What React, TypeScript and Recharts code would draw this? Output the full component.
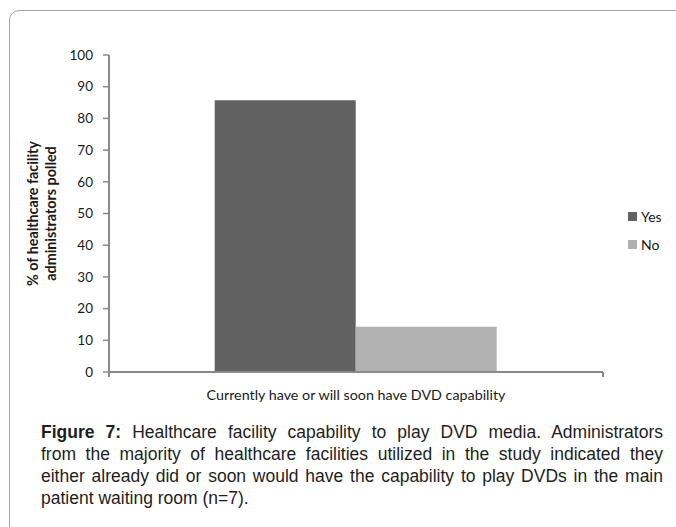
import { BarChart, Bar, XAxis, YAxis, Legend } from "recharts";

const categories = ["Currently have or will soon have DVD capability"];
const yesValues = [85.7];
const noValues = [14.3];
const seriesNames = ["Yes", "No"];
const seriesColors = ["#616161", "#b1b1b1"];
const yTicks = [0, 10, 20, 30, 40, 50, 60, 70, 80, 90, 100];
const yLabelLines = ["% of healthcare facility", "administrators polled"];
const captionLabel = "Figure 7:";
const captionLines = [
  " Healthcare facility capability to play DVD media. Administrators",
  "from the majority of healthcare facilities utilized in the study indicated they",
  "either already did or soon would have the capability to play DVDs in the main",
  "patient waiting room (n=7).",
];

const data = categories.map((c, i) => ({ category: c, Yes: yesValues[i], No: noValues[i] }));

const FONT = "Lato, 'Open Sans', sans-serif";
const AXIS = "#8a8a8a";
const X_TICK_GAP = 18;

function CategoryTick(props: any) {
  const { x, y, payload } = props;
  const half = payload?.offset ?? 0;
  const axisY = y - X_TICK_GAP;
  return (
    <g>
      {half > 0 && (
        <>
          <line x1={x - half} x2={x - half} y1={axisY} y2={axisY + 5} stroke={AXIS} strokeWidth={2} />
          <line x1={x + half} x2={x + half} y1={axisY} y2={axisY + 5} stroke={AXIS} strokeWidth={2} />
        </>
      )}
      <text x={x} y={y} dy="0.71em" textAnchor="middle" fontFamily={FONT} fontSize={14.3} fill="#1a1a1a">
        {payload.value}
      </text>
    </g>
  );
}

function YTitle(props: any) {
  const vb = props.viewBox || { x: 0, y: 0, width: 0, height: 0 };
  const cy = vb.y + vb.height / 2;
  const xs = [vb.x + 32, vb.x + 50];
  return (
    <g>
      {yLabelLines.map((t, i) => (
        <text
          key={i}
          x={xs[i]}
          y={cy}
          transform={`rotate(-90, ${xs[i]}, ${cy})`}
          textAnchor="middle"
          dominantBaseline="central"
          fontFamily={FONT}
          fontWeight={700}
          fontSize={14.3}
          fill="#1a1a1a"
        >
          {t}
        </text>
      ))}
    </g>
  );
}

function LegendBox() {
  return (
    <div style={{ fontFamily: FONT, fontSize: 14, color: "#1a1a1a" }}>
      {seriesNames.map((n, i) => (
        <div key={n} style={{ display: "flex", alignItems: "center", height: 28 }}>
          <span style={{ width: 9, height: 9, background: seriesColors[i], marginRight: 4 }} />
          {n}
        </div>
      ))}
    </div>
  );
}

export default function App() {
  return (
    <div
      style={{
        position: "absolute",
        left: 0,
        top: 0,
        width: 676,
        height: 527,
        background: "#fff",
        overflow: "hidden",
      }}
    >
      <div
        style={{
          position: "absolute",
          left: 9,
          top: 10,
          width: 720,
          height: 600,
          border: "1.5px solid #a3a3a3",
          borderRadius: 10,
        }}
      />
      <div style={{ position: "absolute", left: 0, top: 0 }}>
        <BarChart
          width={676}
          height={410}
          data={data}
          margin={{ top: 55, right: 73, bottom: 10, left: 0 }}
          barCategoryGap="21.4%"
          barGap={0}
        >
          <XAxis
            dataKey="category"
            axisLine={{ stroke: AXIS, strokeWidth: 2 }}
            tickLine={false}
            tickSize={0}
            tickMargin={X_TICK_GAP}
            height={28}
            tick={<CategoryTick />}
          />
          <YAxis
            domain={[0, 100]}
            ticks={yTicks}
            width={109}
            axisLine={{ stroke: AXIS, strokeWidth: 2 }}
            tickLine={{ stroke: AXIS, strokeWidth: 1.5 }}
            tickSize={6}
            tickMargin={10}
            tick={{ fontFamily: FONT, fontSize: 13.5, fill: "#1a1a1a" }}
            label={<YTitle />}
            interval={0}
          />
          <Legend
            layout="horizontal"
            verticalAlign="middle"
            align="center"
            wrapperStyle={{ left: 628, top: 202, right: "auto", width: "auto" }}
            content={<LegendBox />}
          />
          <Bar dataKey="Yes" fill={seriesColors[0]} isAnimationActive={false} />
          <Bar dataKey="No" fill={seriesColors[1]} isAnimationActive={false} />
        </BarChart>
      </div>
      <div
        style={{
          position: "absolute",
          left: 41,
          top: 421,
          width: 622,
          fontFamily: "'Liberation Sans', Arial, sans-serif",
          fontSize: 17.5,
          lineHeight: "22px",
          color: "#1e1e1e",
        }}
      >
        {captionLines.map((line, i) => (
          <div
            key={i}
            style={{
              textAlign: "justify",
              textAlignLast: i < captionLines.length - 1 ? "justify" : "left",
              whiteSpace: "nowrap",
            }}
          >
            {i === 0 && <b>{captionLabel}</b>}
            {line}
          </div>
        ))}
      </div>
    </div>
  );
}
